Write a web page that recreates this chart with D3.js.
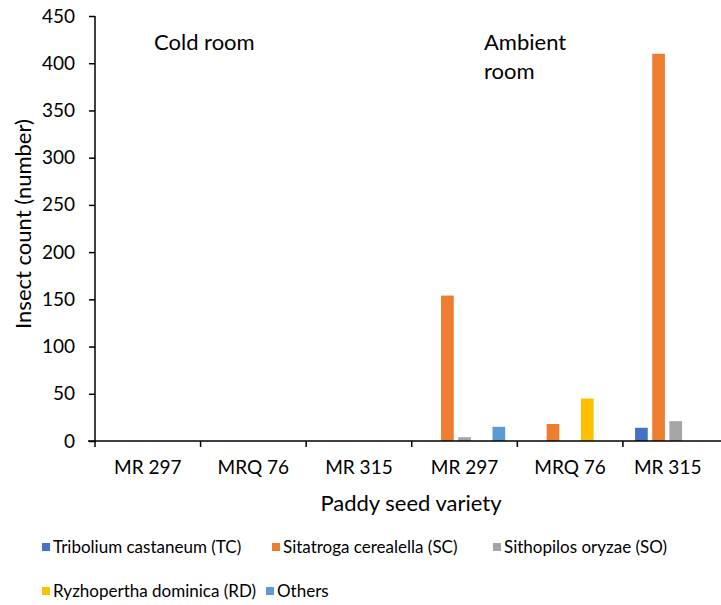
<!DOCTYPE html>
<html>
<head>
<meta charset="utf-8">
<script src="https://cdn.jsdelivr.net/npm/d3@7"></script>
<style>
  body { margin: 0; background: #fff; }
  text { font-family: Lato, "Open Sans", sans-serif; fill: #000; }
</style>
</head>
<body>
<svg id="chart"></svg>
<script>
// categories along the x axis (first three = cold room, last three = ambient room)
const varieties = ["MR 297", "MRQ 76", "MR 315", "MR 297", "MRQ 76", "MR 315"];
const species = ["Tribolium castaneum (TC)", "Sitatroga cerealella (SC)", "Sithopilos oryzae (SO)",
                 "Ryzhopertha dominica (RD)", "Others"];
const speciesColors = ["#4472C4", "#ED7D31", "#A5A5A5", "#FFC000", "#5B9BD5"];

// counts per species, one value per variety column
const tcCounts     = [0, 0, 0, 0, 0, 14];
const scCounts     = [0, 0, 0, 154, 18, 410];
const soCounts     = [0, 0, 0, 4, 0, 21];
const rdCounts     = [0, 0, 0, 0, 45, 0];
const othersCounts = [0, 0, 0, 15, 0, 0];
const yTicks = [0, 50, 100, 150, 200, 250, 300, 350, 400, 450];

const seriesValues = [tcCounts, scCounts, soCounts, rdCounts, othersCounts];

const width = 721, height = 605;
const margin = { top: 16, left: 95 };
const plotRight = 728.5; // plot area runs slightly past the image edge
const plotBottom = 441;

const svg = d3.select("#chart").attr("width", width).attr("height", height);

const x0 = d3.scaleBand().domain(d3.range(varieties.length)).range([margin.left, plotRight]);
const x1 = d3.scaleBand().domain(d3.range(species.length))
    .range([x0.bandwidth() * 0.115, x0.bandwidth() * 0.885])
    .paddingInner(0.26);
const y = d3.scaleLinear().domain([0, 450]).range([plotBottom, margin.top]);

// bars
const groups = svg.append("g").selectAll("g")
    .data(varieties.map((v, i) => i))
    .join("g")
    .attr("transform", i => `translate(${x0(i)},0)`);

groups.selectAll("rect")
    .data(i => seriesValues.map((s, k) => ({ k: k, v: s[i] })).filter(d => d.v > 0))
    .join("rect")
    .attr("x", d => x1(d.k))
    .attr("width", x1.bandwidth())
    .attr("y", d => y(d.v))
    .attr("height", d => y(0) - y(d.v))
    .attr("fill", d => speciesColors[d.k]);

// y axis
const yAxisG = svg.append("g")
    .attr("transform", `translate(${margin.left},0)`)
    .call(d3.axisLeft(y).tickValues(yTicks).tickSize(6).tickPadding(14));
yAxisG.select(".domain").attr("stroke", "#000").attr("stroke-width", 1.5)
    .attr("d", `M0,${y(450)}V${y(0) + 1}`);
yAxisG.selectAll(".tick line").attr("stroke", "#000").attr("stroke-width", 1.5);
yAxisG.selectAll(".tick text").style("font-size", "19px").style("font-family", "Lato, sans-serif");

// x axis: line with ticks on category boundaries
const xAxisG = svg.append("g");
xAxisG.append("line")
    .attr("x1", margin.left - 7).attr("x2", width)
    .attr("y1", y(0)).attr("y2", y(0))
    .attr("stroke", "#000").attr("stroke-width", 1.5);
const boundaries = d3.range(varieties.length).map(i => x0(i));
xAxisG.selectAll(".xtick")
    .data(boundaries)
    .join("line")
    .attr("class", "xtick")
    .attr("x1", d => d).attr("x2", d => d)
    .attr("y1", y(0)).attr("y2", y(0) + 6)
    .attr("stroke", "#000").attr("stroke-width", 1.5);
xAxisG.selectAll(".xlabel")
    .data(varieties)
    .join("text")
    .attr("class", "xlabel")
    .attr("x", (d, i) => x0(i) + x0.bandwidth() / 2 - (i === 5 ? 8 : 0))
    .attr("y", 474)
    .attr("text-anchor", "middle")
    .style("font-size", "19px")
    .text(d => d);

// axis titles
svg.append("text")
    .attr("x", 411).attr("y", 511)
    .attr("text-anchor", "middle")
    .style("font-size", "22px")
    .text("Paddy seed variety");
svg.append("text")
    .attr("transform", "translate(31,224) rotate(-90)")
    .attr("text-anchor", "middle")
    .style("font-size", "22px")
    .text("Insect count (number)");

// room annotations
svg.append("text").attr("x", 154).attr("y", 50).style("font-size", "22px").text("Cold room");
svg.append("text").attr("x", 484).attr("y", 50).style("font-size", "22px").text("Ambient");
svg.append("text").attr("x", 484).attr("y", 79).style("font-size", "22px").text("room");

// legend
const legendPos = [[42, 547], [272, 547], [493, 547], [42, 591], [266, 591]];
const legend = svg.append("g").selectAll("g")
    .data(species)
    .join("g")
    .attr("transform", (d, i) => `translate(${legendPos[i][0]},${legendPos[i][1]})`);
legend.append("rect")
    .attr("x", 0).attr("y", -4).attr("width", 8).attr("height", 8)
    .attr("fill", (d, i) => speciesColors[i]);
legend.append("text")
    .attr("x", 11).attr("y", 6)
    .style("font-size", "17px")
    .text(d => d);
</script>
</body>
</html>
